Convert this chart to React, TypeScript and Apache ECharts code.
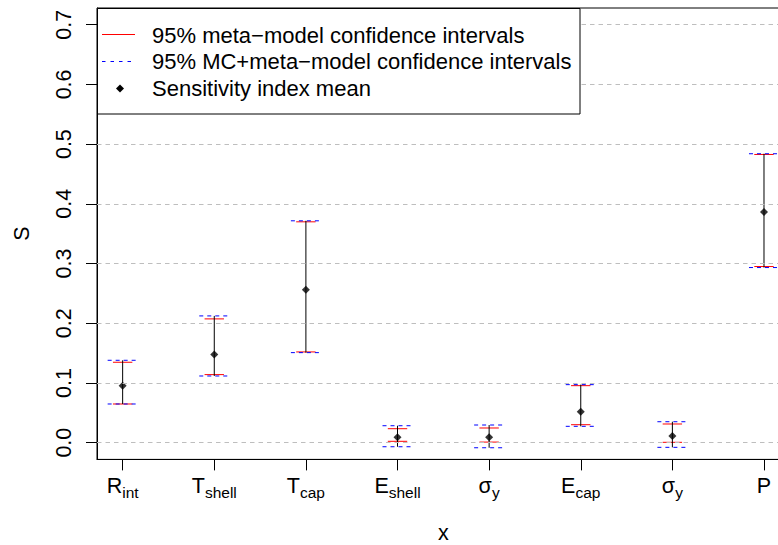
import React, { useEffect, useRef } from 'react';
import * as echarts from 'echarts';

// Categories (main symbol + subscript)
const categoryMain = ['R', 'T', 'T', 'E', 'σ', 'E', 'σ', 'P'];
const categorySub = ['int', 'shell', 'cap', 'shell', 'y', 'cap', 'y', ''];
const positions = [1, 2, 3, 4, 5, 6, 7, 8];

// Sensitivity index mean
const means = [0.0955, 0.1475, 0.256, 0.009, 0.009, 0.052, 0.0111, 0.3862];
// 95% meta-model confidence intervals
const metaLow = [0.0648, 0.114, 0.152, 0.0023, 0.001, 0.0301, 0.0006, 0.295];
const metaHigh = [0.1347, 0.2073, 0.3699, 0.0234, 0.0246, 0.0955, 0.0313, 0.4827];
// 95% MC+meta-model confidence intervals
const mcLow = [0.0648, 0.1117, 0.1508, -0.0068, -0.0085, 0.0274, -0.0078, 0.2933];
const mcHigh = [0.138, 0.2123, 0.3716, 0.0284, 0.0296, 0.0972, 0.0351, 0.4839];

const yTicks = [0, 0.1, 0.2, 0.3, 0.4, 0.5, 0.6, 0.7];
const legendLabels = [
  '95% meta−model confidence intervals',
  '95% MC+meta−model confidence intervals',
  'Sensitivity index mean',
];

const FONT = 'Liberation Sans, Arial, Helvetica, sans-serif';

export default function App() {
  const ref = useRef<HTMLDivElement>(null);
  useEffect(() => {
    if (!ref.current) return;
    const chart = echarts.init(ref.current, null, { renderer: 'svg' });
    const barData = positions.map((p, i) => [p, metaLow[i], metaHigh[i], mcLow[i], mcHigh[i]]);
    const meanData = positions.map((p, i) => [p, means[i]]);

    const option: any = {
      animation: false,
      backgroundColor: '#ffffff',
      textStyle: { fontFamily: FONT },
      grid: {
        left: 97,
        top: 8,
        right: -11.65,
        bottom: 85.6,
        containLabel: false,
        outerBoundsMode: 'none',
        show: true,
        borderColor: '#000000',
        borderWidth: 1,
        backgroundColor: 'transparent',
      },
      xAxis: {
        type: 'value',
        min: 0.72,
        max: 8.28,
        name: 'x',
        nameLocation: 'middle',
        nameGap: 63,
        nameTextStyle: { fontSize: 21.5, color: '#000', fontFamily: FONT },
        splitLine: { show: false },
        axisLine: { show: true, onZero: false, lineStyle: { color: '#000', width: 1 } },
        axisTick: { show: true, length: 11, inside: false, customValues: positions, lineStyle: { color: '#000' } },
        axisLabel: {
          show: true,
          margin: 12.5,
          customValues: positions,
          color: '#000',
          formatter: (v: number) => {
            const i = Math.round(v) - 1;
            const m = categoryMain[i];
            const s = categorySub[i];
            return s ? `{m|${m}}{s|${s}}` : `{m|${m}}`;
          },
          rich: {
            m: { fontSize: 21.5, lineHeight: 28, fontFamily: FONT, color: '#000' },
            s: { fontSize: 15.5, lineHeight: 14, padding: [14, 0, 0, 0], fontFamily: FONT, color: '#000' },
          },
        },
      },
      yAxis: {
        type: 'value',
        min: -0.028,
        max: 0.728,
        name: 'S',
        nameLocation: 'middle',
        nameGap: 64,
        nameRotate: 90,
        nameTextStyle: { fontSize: 21.5, color: '#000', fontFamily: FONT },
        splitLine: { show: false },
        axisLine: { show: true, onZero: false, lineStyle: { color: '#000', width: 1 } },
        axisTick: { show: true, length: 11, inside: false, customValues: yTicks, lineStyle: { color: '#000' } },
        axisLabel: {
          show: true,
          rotate: 90,
          margin: 22,
          customValues: yTicks,
          fontSize: 21.5,
          color: '#000',
          fontFamily: FONT,
          formatter: (v: number) => v.toFixed(1),
        },
      },
      series: [
        {
          type: 'custom',
          name: 'intervals',
          z: 2,
          data: barData,
          encode: { x: 0, y: [1, 2, 3, 4] },
          renderItem: (params: any, api: any) => {
            const x = api.value(0);
            const rl = api.coord([x, api.value(1)]);
            const rh = api.coord([x, api.value(2)]);
            const bl = api.coord([x, api.value(3)]);
            const bh = api.coord([x, api.value(4)]);
            const cx = rl[0];
            const red = { stroke: '#ff0000', lineWidth: 1 };
            const blue = { stroke: '#0000ff', lineWidth: 1, lineDash: [4, 4] };
            return {
              type: 'group',
              children: [
                { type: 'line', shape: { x1: cx - 9.7, y1: rl[1], x2: cx + 9.7, y2: rl[1] }, style: red },
                { type: 'line', shape: { x1: cx - 9.7, y1: rh[1], x2: cx + 9.7, y2: rh[1] }, style: red },
                { type: 'line', shape: { x1: cx - 15, y1: bl[1], x2: cx + 15, y2: bl[1] }, style: blue },
                { type: 'line', shape: { x1: cx - 15, y1: bh[1], x2: cx + 15, y2: bh[1] }, style: blue },
                { type: 'line', shape: { x1: cx, y1: bl[1], x2: cx, y2: bh[1] }, style: { stroke: '#000', lineWidth: 1 } },
              ],
            };
          },
          markLine: {
            silent: true,
            symbol: ['none', 'none'],
            label: { show: false },
            lineStyle: { color: '#bebebe', type: [4.5, 4], width: 1 },
            data: yTicks.map((v) => ({ yAxis: v })),
          },
        },
        {
          type: 'scatter',
          name: 'Sensitivity index mean',
          z: 3,
          symbol: 'diamond',
          symbolSize: 8,
          itemStyle: { color: '#000' },
          data: meanData,
        },
      ],
      graphic: [
        {
          type: 'group',
          z: 100,
          children: [
            {
              type: 'rect',
              z: 100,
              shape: { x: 97.5, y: 8.5, width: 482.5, height: 105.5 },
              style: { fill: '#ffffff', stroke: '#000000', lineWidth: 1 },
            },
            {
              type: 'line',
              z: 101,
              shape: { x1: 102, y1: 34.5, x2: 135, y2: 34.5 },
              style: { stroke: '#ff0000', lineWidth: 1 },
            },
            {
              type: 'line',
              z: 101,
              shape: { x1: 102, y1: 61.5, x2: 135, y2: 61.5 },
              style: { stroke: '#0000ff', lineWidth: 1, lineDash: [3.5, 5] },
            },
            {
              type: 'polygon',
              z: 101,
              shape: { points: [[120, 84.5], [124, 88.5], [120, 92.5], [116, 88.5]] },
              style: { fill: '#000000' },
            },
            ...legendLabels.map((t, i) => ({
              type: 'text',
              z: 101,
              x: 152,
              y: [35.5, 61.5, 88][i],
              style: {
                text: t,
                fontSize: 22,
                fontFamily: FONT,
                fill: '#000',
                verticalAlign: 'middle',
                align: 'left',
              },
            })),
          ],
        },
      ],
    };
    chart.setOption(option);
    return () => chart.dispose();
  }, []);
  return (
    <div
      ref={ref}
      style={{ position: 'absolute', left: 0, top: 0, width: 778, height: 545, background: '#fff' }}
    />
  );
}
